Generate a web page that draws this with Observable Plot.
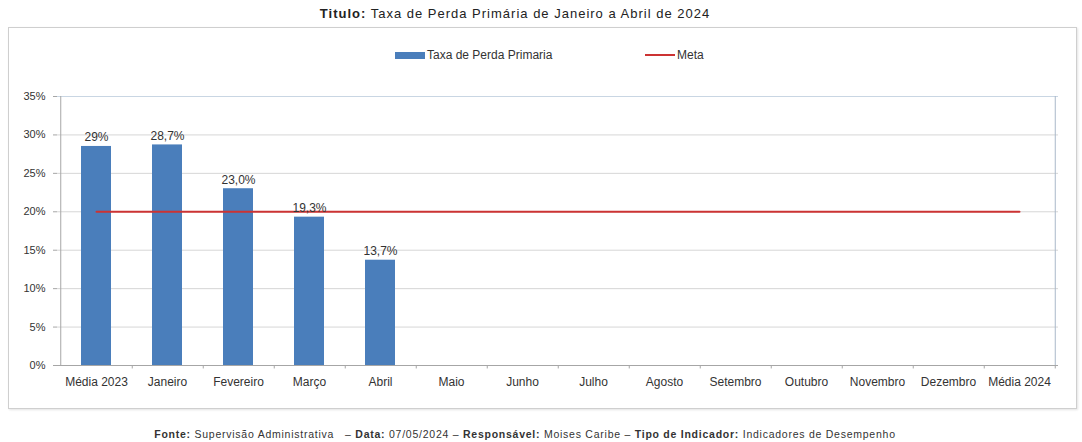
<!DOCTYPE html>
<html><head><meta charset="utf-8">
<script src="https://cdn.jsdelivr.net/npm/d3@7"></script>
<script src="https://cdn.jsdelivr.net/npm/@observablehq/plot@0.6"></script>
<style>
html,body{margin:0;padding:0;background:#fff;width:1082px;height:442px;overflow:hidden;font-family:"Liberation Sans",Arial,sans-serif;}
#title{position:absolute;top:6px;left:0;width:1030px;text-align:center;font-size:13px;letter-spacing:1px;color:#222;}
#box{position:absolute;left:8px;top:27px;width:1067px;height:380px;border:1px solid #cfcfcf;box-shadow:1px 1px 2px #e4e4e4;}
#legend{position:absolute;top:48px;left:0;width:1082px;font-size:12px;color:#333;}
.li{position:absolute;top:0;display:flex;align-items:center;white-space:nowrap;}
#chart{position:absolute;left:0;top:80px;}
#footer{position:absolute;top:428px;left:0;width:1050px;text-align:center;font-size:10.5px;letter-spacing:0.75px;color:#333;}
</style></head>
<body>
<div id="title"><b>Titulo:</b> Taxa de Perda Primária de Janeiro a Abril de 2024</div>
<div id="box"></div>
<div id="legend">
  <div class="li" style="left:395px"><span style="display:inline-block;width:30px;height:7px;background:#4a7ebb;margin-right:2px"></span>Taxa de Perda Primaria</div>
  <div class="li" style="left:645px"><span style="display:inline-block;width:30px;height:2px;background:#cc3333;margin-right:2px"></span>Meta</div>
</div>
<div id="chart"></div>
<div id="footer"><b>Fonte:</b> Supervisão Administrativa &nbsp; – <b>Data:</b> 07/05/2024 – <b>Responsável:</b> Moises Caribe – <b>Tipo de Indicador:</b> Indicadores de Desempenho</div>
<script>
const categories = ["Média 2023","Janeiro","Fevereiro","Março","Abril","Maio","Junho","Julho","Agosto","Setembro","Outubro","Novembro","Dezembro","Média 2024"];
const taxa = [28.5, 28.7, 23.0, 19.3, 13.7, null, null, null, null, null, null, null, null, null];
const taxaLabels = ["29%","28,7%","23,0%","19,3%","13,7%"];
const meta = [20,20,20,20,20,20,20,20,20,20,20,20,20,20];
const yTicks = [0,5,10,15,20,25,30,35];

const bars = categories.map((c,i)=>({c, v: taxa[i], label: taxaLabels[i]})).filter(d=>d.v!=null);
const metaData = categories.map((c,i)=>({c, v: meta[i]}));

const W = 1082, mL = 57, mR = 24;
const step = (W - mL - mR) / categories.length;

const plot = Plot.plot({
  width: W, height: 320,
  marginLeft: mL, marginRight: mR, marginTop: 16, marginBottom: 35,
  style: {fontFamily: '"Liberation Sans",Arial,sans-serif', fontSize: "12px", color: "#333", background: "transparent", overflow: "visible"},
  x: {domain: categories, paddingInner: 0.58, paddingOuter: 0.29, label: null},
  y: {domain: [0,35], label: null},
  marks: [
    Plot.ruleY(yTicks.slice(1,-1), {stroke: "#d6d6d6"}),
    Plot.ruleY([35], {stroke: "#c9d6e3"}),
    Plot.ruleX([categories[categories.length-1]], {dx: step/2, stroke: "#a9b8c9"}),
    Plot.ruleX([categories[0]], {dx: -step/2, stroke: "#a6a6a6"}),
    Plot.ruleX(categories, {x: d=>d, dx: step/2, y1: 0, y2: -0.45, stroke: "#a6a6a6"}),
    Plot.barY(bars, {x: "c", y: "v", fill: "#4a7ebb"}),
    Plot.ruleY([0], {stroke: "#a6a6a6"}),
    Plot.line(metaData, {x: "c", y: "v", stroke: "#cc3333", strokeWidth: 2}),
    Plot.text(bars, {x: "c", y: "v", text: "label", dy: -9, fill: "#333", fontSize: 12}),
    Plot.axisY({ticks: yTicks, tickFormat: d => d + "%", tickSize: 4, tickPadding: 8, stroke: "#a6a6a6", fontSize: 11}),
    Plot.axisX({tickSize: 0, tickPadding: 12})
  ]
});
document.getElementById("chart").appendChild(plot);
</script>
</body></html>
